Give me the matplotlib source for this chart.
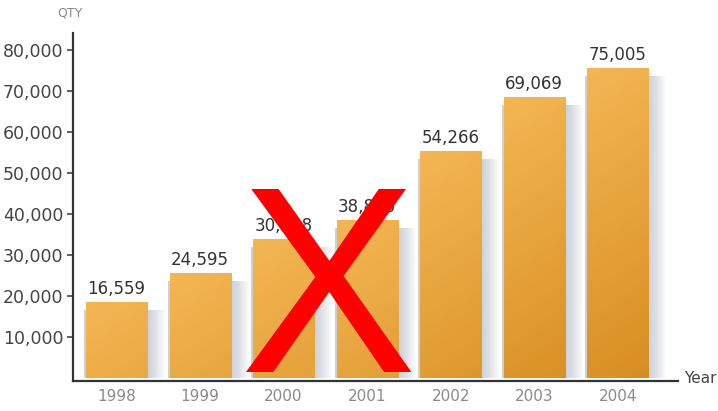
import numpy as np
import matplotlib
matplotlib.use("Agg")
import matplotlib.pyplot as plt

# --- data ---
years = ["1998", "1999", "2000", "2001", "2002", "2003", "2004"]
qty_labels = ["16,559", "24,595", "30,288", "38,866", "54,266", "69,069", "75,005"]
# bar tops as drawn against the axis scale (the source chart is not exact)
bar_tops = [18530, 25610, 33840, 38480, 55400, 68580, 75510]
yticks = [10000, 20000, 30000, 40000, 50000, 60000, 70000, 80000]

W, H, DPI = 718, 411, 100
fig = plt.figure(figsize=(W / DPI, H / DPI), dpi=DPI)
fig.patch.set_facecolor("white")
ax = fig.add_axes([73 / W, 1 - 381 / H, (678 - 73) / W, (381 - 33) / H])

x = np.arange(len(years))
bw = 0.73
ax.set_xlim(-0.52, 6.72)
ax.set_ylim(-830, 84130)

light = np.array([0.955, 0.715, 0.330])
dark = np.array([0.845, 0.555, 0.130])
px = (6.72 + 0.52) / (678 - 73)  # one pixel in x data units

for xi, top in zip(x, bar_tops):
    x0, x1 = xi - bw / 2, xi + bw / 2
    # soft shadow, mostly on the right
    for k in range(1, 19):
        ax.add_patch(plt.Rectangle((x0 - 2 * px, 0), bw + (2 + k) * px, top - 2000,
                                   color="#98a0b6", alpha=0.03, lw=0, zorder=1))
    # gradient fill: lighter at the top, darker toward the bottom and right
    ny, nx = 120, 40
    yy = np.linspace(0, 1, ny)[:, None]
    xx = np.linspace(0, 1, nx)[None, :]
    d = yy * top / 75000 * 0.88 + xx * 0.12
    d = np.clip(d, 0, 1)[..., None]
    img = light * (1 - d) + dark * d
    ax.imshow(img, extent=(x0, x1, 0, top), aspect="auto", origin="upper",
              interpolation="bilinear", zorder=2)

for xi, top, lab in zip(x, bar_tops, qty_labels):
    ax.annotate(lab, (xi, top), xytext=(0, 3), textcoords="offset points",
                ha="center", va="bottom", fontsize=12, color="#333333", zorder=4)

ax.set_xticks(x)
ax.set_xticklabels(years)
ax.set_yticks(yticks)
ax.set_yticklabels([f"{v:,}" for v in yticks])
ax.tick_params(axis="x", length=0, pad=6, labelsize=11, labelcolor="#8a8a8a")
ax.tick_params(axis="y", length=4, width=1.2, color="#444444", pad=3,
               labelsize=12.5, labelcolor="#444444")

for s in ["top", "right"]:
    ax.spines[s].set_visible(False)
for s in ["left", "bottom"]:
    ax.spines[s].set_color("#333333")
    ax.spines[s].set_linewidth(1.6)
ax.set_facecolor("white")

fig.text(70 / W, 1 - 13 / H, "QTY", ha="center", va="center", fontsize=9, color="#8a8a8a")
fig.text(684 / W, 1 - 378 / H, "Year", ha="left", va="center", fontsize=11, color="#444444")

# big red X over 2000-2001
fig.text(327 / W, 1 - 372 / H, "X", ha="center", va="baseline", fontsize=191,
         color="#ff0000", family="Liberation Sans", zorder=10)

fig.savefig("out.png", dpi=DPI)
